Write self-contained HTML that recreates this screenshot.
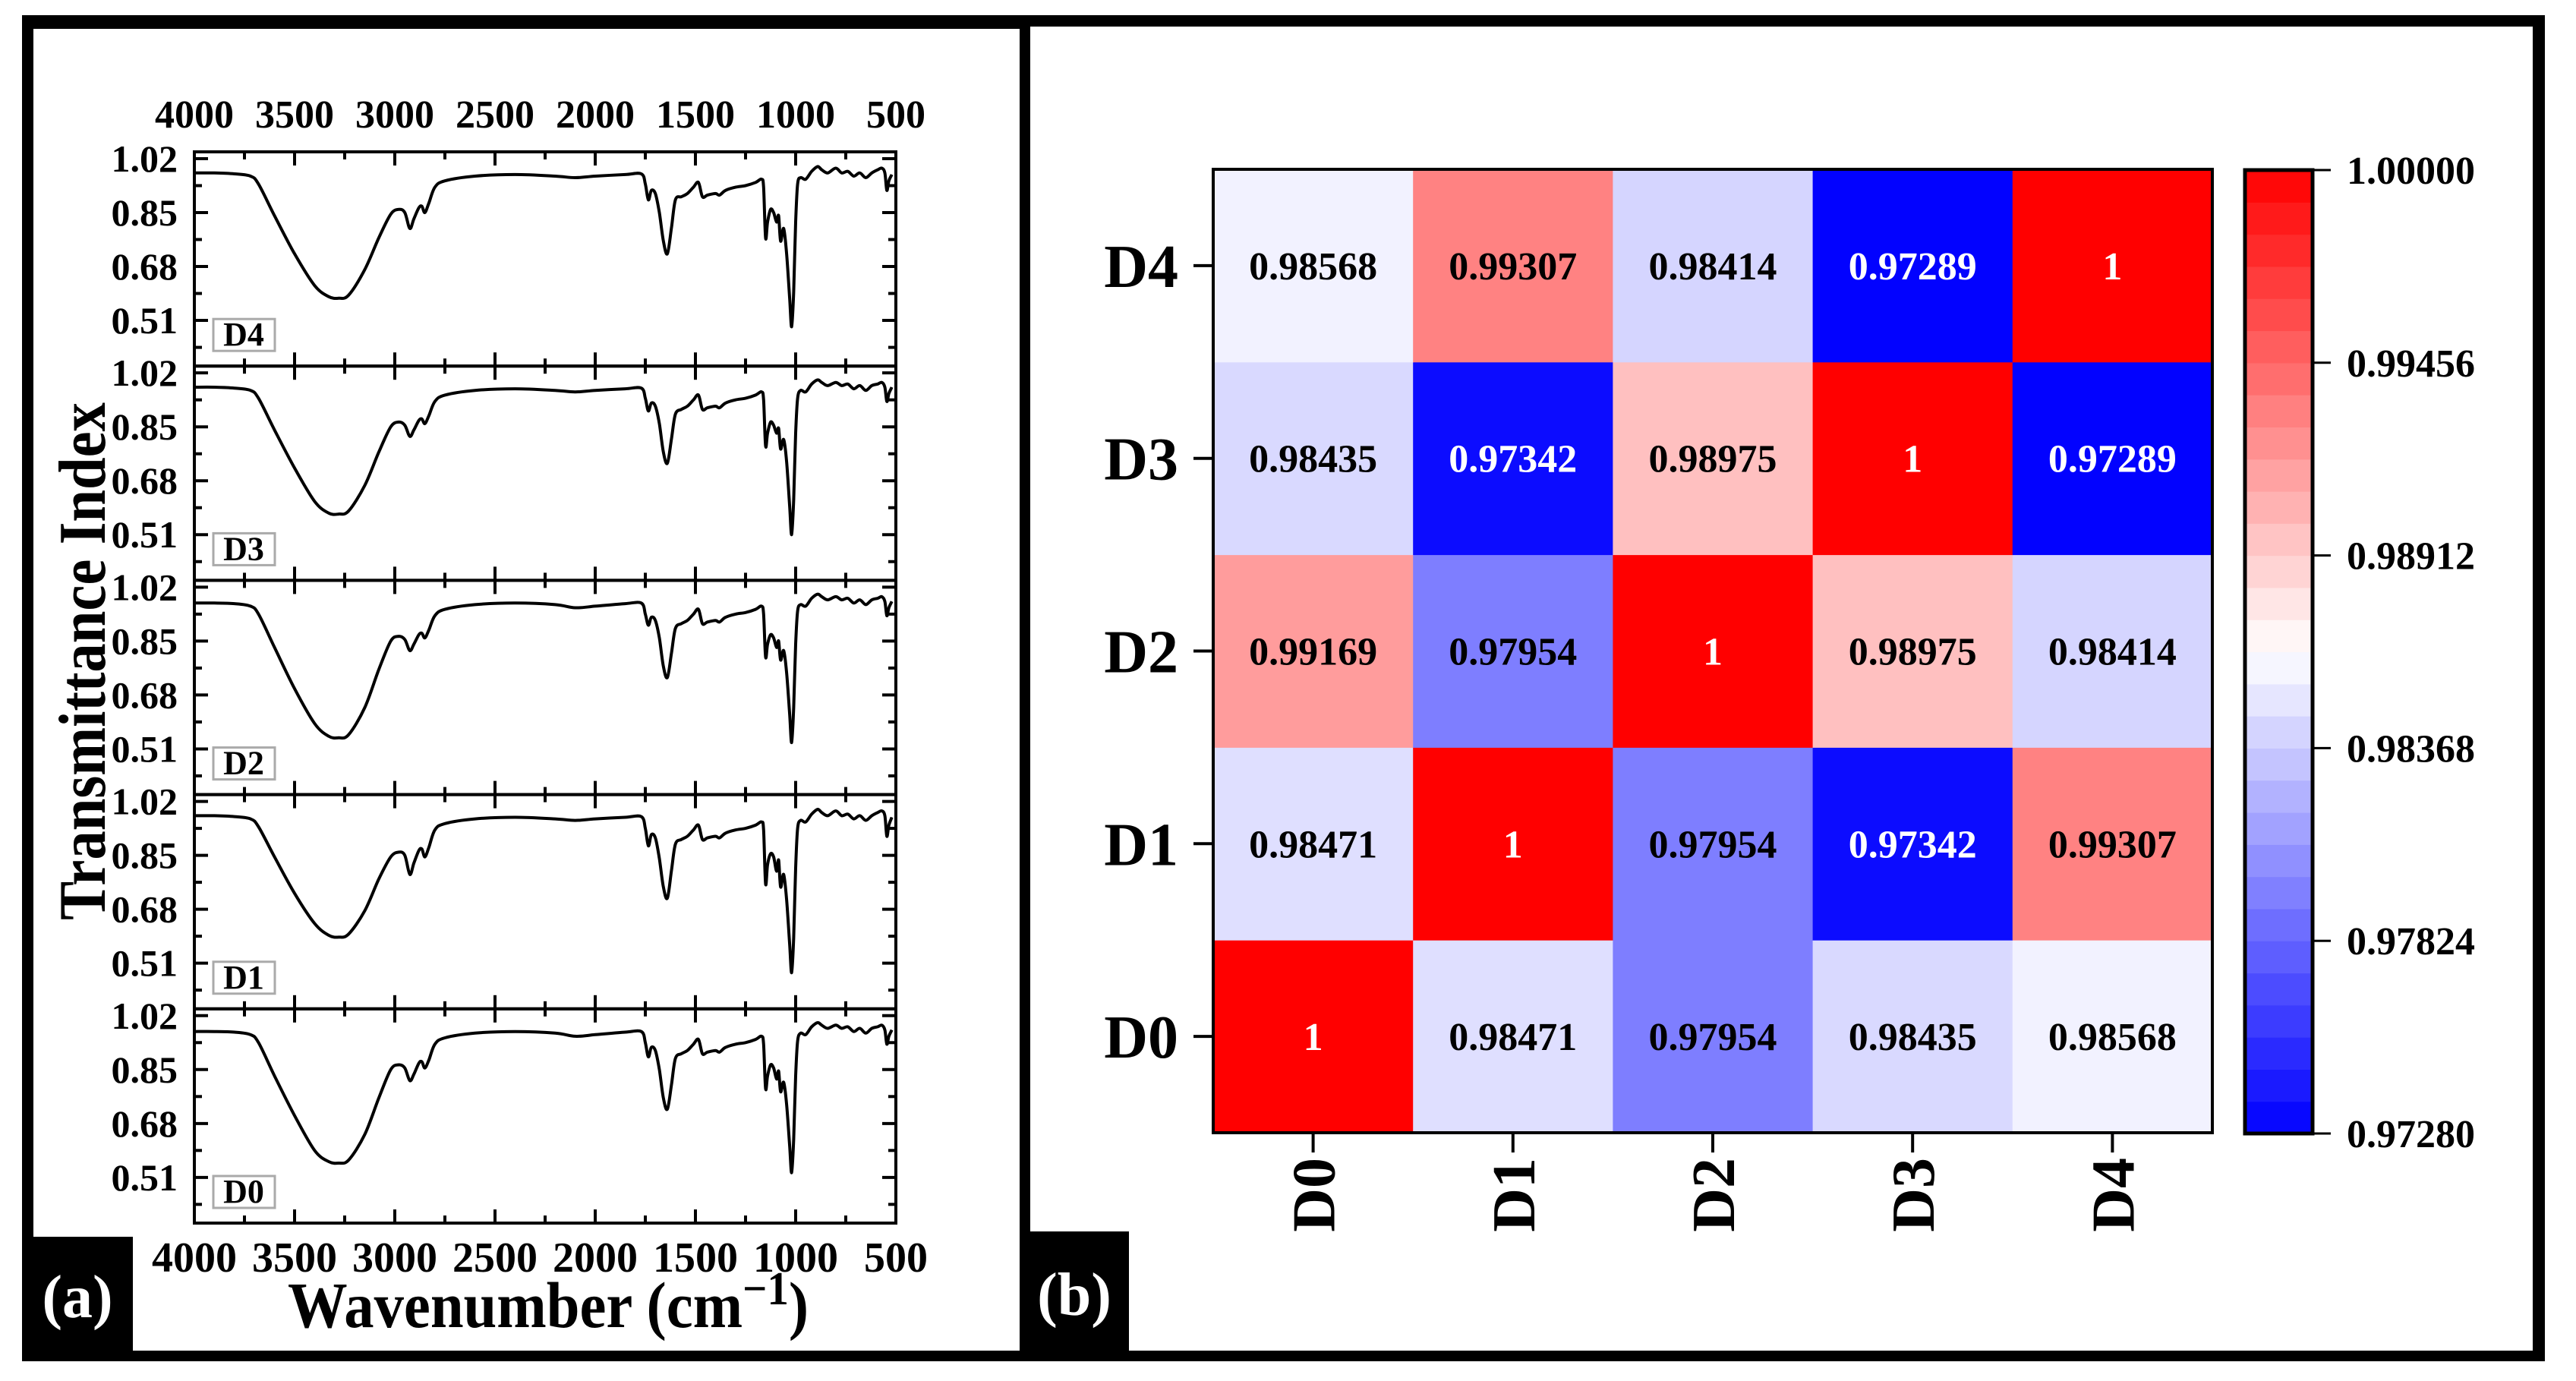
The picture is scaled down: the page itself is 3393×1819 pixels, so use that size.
<!DOCTYPE html>
<html><head><meta charset="utf-8"><style>
html,body{margin:0;padding:0;background:#fff;}
svg{display:block;font-family:"Liberation Serif",serif;font-weight:bold;}
</style></head><body>
<svg id="fig" width="3393" height="1819" viewBox="0 0 3393 1819" xmlns="http://www.w3.org/2000/svg">
<rect x="29" y="20" width="3323" height="1773" fill="#000"/>
<rect x="44" y="38" width="1299" height="1741" fill="#fff"/>
<rect x="1357" y="35" width="1979" height="1744" fill="#fff"/>
<rect x="29" y="1629" width="146" height="164" fill="#000"/>
<text x="102" y="1735" font-size="80" fill="#fff" text-anchor="middle">(a)</text>
<rect x="1343" y="1622" width="144" height="171" fill="#000"/>
<text x="1415" y="1732" font-size="80" fill="#fff" text-anchor="middle">(b)</text>
<g id="ftir"></g>
<g id="heat"></g>
<text x="722" y="1748" font-size="86" text-anchor="middle" textLength="686" lengthAdjust="spacingAndGlyphs">Wavenumber (cm<tspan dy="-30" font-size="62">−1</tspan><tspan dy="30">)</tspan></text>
<text transform="translate(138,871) rotate(-90)" font-size="88" text-anchor="middle" textLength="682" lengthAdjust="spacingAndGlyphs">Transmittance Index</text>
</svg>
<script>
const NS="http://www.w3.org/2000/svg";
// ---------- FTIR data ----------
const samples=["D4","D3","D2","D1","D0"];
const xTicks=[4000,3500,3000,2500,2000,1500,1000,500];
const yTicks=[1.02,0.85,0.68,0.51];
const W=[4000,3900,3800,3720,3680,3600,3500,3400,3330,3280,3230,3150,3080,3020,2980,2950,2925,2905,2880,2865,2850,2830,2800,2750,2600,2400,2200,2100,2000,1850,1770,1750,1735,1720,1700,1680,1660,1640,1620,1600,1570,1540,1510,1485,1465,1440,1400,1380,1350,1300,1250,1200,1170,1160,1150,1140,1125,1110,1095,1085,1075,1060,1045,1030,1020,1010,1000,990,975,950,920,890,870,840,800,770,740,710,680,650,620,590,570,555,545,535,520];
const tD4=[.975,.975,.972,.965,.94,.84,.72,.62,.585,.58,.59,.67,.77,.845,.86,.85,.80,.83,.865,.87,.85,.88,.93,.95,.965,.97,.965,.96,.965,.97,.972,.94,.89,.92,.91,.85,.76,.72,.80,.89,.90,.91,.93,.945,.90,.905,.91,.905,.92,.93,.935,.945,.955,.93,.77,.82,.86,.85,.82,.84,.76,.80,.72,.58,.49,.60,.82,.94,.96,.955,.98,.995,.985,.975,.99,.975,.98,.965,.975,.96,.975,.985,.99,.975,.92,.95,.97];
const tD3=[.975,.975,.972,.965,.94,.84,.72,.615,.578,.575,.585,.665,.77,.85,.865,.855,.82,.84,.87,.875,.86,.885,.93,.95,.965,.97,.965,.96,.965,.97,.972,.94,.90,.925,.915,.86,.77,.735,.81,.89,.905,.915,.935,.95,.905,.91,.915,.91,.925,.935,.94,.95,.96,.935,.79,.83,.865,.855,.83,.845,.78,.81,.74,.60,.51,.62,.83,.94,.965,.96,.985,.998,.99,.98,.99,.98,.985,.97,.98,.965,.98,.985,.99,.975,.93,.955,.975];
const tD2=[.97,.97,.968,.96,.935,.83,.70,.59,.55,.545,.555,.64,.76,.85,.865,.855,.82,.84,.87,.875,.86,.885,.93,.95,.965,.97,.965,.955,.96,.968,.97,.935,.90,.925,.915,.86,.77,.735,.81,.89,.905,.915,.935,.95,.905,.91,.915,.91,.925,.935,.94,.95,.96,.935,.80,.84,.87,.86,.83,.85,.79,.82,.75,.62,.53,.64,.84,.945,.965,.96,.985,.998,.99,.98,.99,.98,.985,.97,.98,.965,.98,.985,.99,.975,.93,.955,.975];
const tD1=[.975,.975,.972,.965,.94,.845,.73,.635,.598,.592,.602,.675,.775,.845,.86,.85,.79,.825,.865,.87,.845,.875,.93,.95,.965,.97,.965,.96,.965,.97,.972,.935,.88,.915,.905,.84,.75,.715,.80,.885,.90,.91,.93,.945,.90,.905,.91,.905,.92,.93,.935,.945,.955,.93,.76,.82,.855,.845,.80,.835,.75,.79,.71,.57,.48,.59,.81,.935,.96,.955,.98,.995,.985,.975,.99,.975,.98,.965,.975,.96,.975,.985,.99,.975,.91,.945,.97];
const tD0=[.97,.97,.968,.96,.935,.83,.705,.595,.56,.555,.565,.645,.76,.85,.865,.855,.815,.835,.87,.875,.855,.88,.93,.95,.965,.97,.965,.955,.96,.968,.97,.935,.89,.92,.91,.85,.76,.725,.80,.885,.90,.91,.93,.945,.90,.905,.91,.905,.92,.93,.935,.945,.955,.93,.79,.83,.865,.855,.82,.845,.78,.81,.74,.61,.525,.63,.83,.94,.965,.96,.985,.998,.99,.98,.99,.98,.985,.97,.98,.965,.98,.985,.99,.975,.93,.955,.975];
const spectra=[tD4,tD3,tD2,tD1,tD0];
// ---------- Heatmap data ----------
const heatRows=["D0","D1","D2","D3","D4"];
const heatCols=["D0","D1","D2","D3","D4"];
const rowD0=[1,0.98471,0.97954,0.98435,0.98568];
const rowD1=[0.98471,1,0.97954,0.97342,0.99307];
const rowD2=[0.99169,0.97954,1,0.98975,0.98414];
const rowD3=[0.98435,0.97342,0.98975,1,0.97289];
const rowD4=[0.98568,0.99307,0.98414,0.97289,1];
const labD0=["1","0.98471","0.97954","0.98435","0.98568"];
const labD1=["0.98471","1","0.97954","0.97342","0.99307"];
const labD2=["0.99169","0.97954","1","0.98975","0.98414"];
const labD3=["0.98435","0.97342","0.98975","1","0.97289"];
const labD4=["0.98568","0.99307","0.98414","0.97289","1"];
const cbTicks=["1.00000","0.99456","0.98912","0.98368","0.97824","0.97280"];
const vMin=0.9728, vMax=1.0;

function mk(tag,attrs,parent){const e=document.createElementNS(NS,tag);for(const k in attrs)e.setAttribute(k,attrs[k]);parent.appendChild(e);return e;}
function smooth(pts){
  let d='M'+pts[0][0].toFixed(1)+','+pts[0][1].toFixed(1);
  for(let i=0;i<pts.length-1;i++){
    const p0=pts[Math.max(0,i-1)],p1=pts[i],p2=pts[i+1],p3=pts[Math.min(pts.length-1,i+2)];
    const k=1/6;
    const c1=[p1[0]+(p2[0]-p0[0])*k,p1[1]+(p2[1]-p0[1])*k];
    const c2=[p2[0]-(p3[0]-p1[0])*k,p2[1]-(p3[1]-p1[1])*k];
    d+='C'+c1[0].toFixed(1)+','+c1[1].toFixed(1)+' '+c2[0].toFixed(1)+','+c2[1].toFixed(1)+' '+p2[0].toFixed(1)+','+p2[1].toFixed(1);
  }
  return d;
}

// ---------- FTIR drawing ----------
const g=document.getElementById('ftir');
const X0=256,X1=1180,PT=200,PB=1611,PH=(PB-PT)/5,YTOP=1.0415,YBOT=0.366;
const xs=w=>X0+(4000-w)*(X1-X0)/3500;
samples.forEach((s,p)=>{
  const top=PT+p*PH, bot=top+PH;
  const ys=v=>top+(YTOP-v)/(YTOP-YBOT)*PH;
  const fr=mk('rect',{x:X0,y:top,width:X1-X0,height:PH,fill:'none',stroke:'#000','stroke-width':4},g);
  
  
  for(let w=4000;w>=500;w-=250){
    const L=(w%500===0)?18:10;const x=xs(w);
    const t1=mk('line',{x1:x,y1:top,x2:x,y2:top+L,stroke:'#000','stroke-width':4},g);
    
    
    const t2=mk('line',{x1:x,y1:bot,x2:x,y2:bot-L,stroke:'#000','stroke-width':4},g);
    
    
  }
  yTicks.forEach((v,i)=>{
    [v,v-0.085].forEach((vv,j)=>{
      const y=ys(vv);if(y>bot-2)return;const L=j?10:18;
      const a=mk('line',{x1:X0,y1:y,x2:X0+L,y2:y,stroke:'#000','stroke-width':4},g);
      
      
      const b=mk('line',{x1:X1,y1:y,x2:X1-L,y2:y,stroke:'#000','stroke-width':4},g);
      
      
    });
    const tl=mk('text',{x:234,y:ys(v)+17,'font-size':50,'text-anchor':'end'},g);
    tl.textContent=v.toFixed(2);
    
    
  });
  const pts=W.map((w,i)=>[xs(w),ys(spectra[p][i])]);
  const path=mk('path',{d:smooth(pts),fill:'none',stroke:'#000','stroke-width':4,'stroke-linejoin':'round'},g);
  
  
  const bx=mk('rect',{x:281,y:bot-62,width:81,height:42,fill:'#fff',stroke:'#aaa','stroke-width':3},g);
  
  
  const lt=mk('text',{x:321,y:bot-27,'font-size':44,'text-anchor':'middle'},g);
  lt.textContent=s;
  
  
});
xTicks.forEach(w=>{
  const a=mk('text',{x:xs(w),y:168,'font-size':52,'text-anchor':'middle'},g);
  a.textContent=w;
  
  
  const b=mk('text',{x:xs(w),y:1675,'font-size':56,'text-anchor':'middle'},g);
  b.textContent=w;
  
  
});

// ---------- Heatmap drawing ----------
const h=document.getElementById('heat');
const HX0=1598,HX1=2914,HY0=223,HY1=1492;
const cw=(HX1-HX0)/heatCols.length, ch=(HY1-HY0)/heatRows.length;
function bwr(v){let t=(v-vMin)/(vMax-vMin);t=Math.max(0,Math.min(1,t));
  if(t<0.5){const f=t*2;const c=Math.round(255*f);return `rgb(${c},${c},255)`;}
  const f=(1-t)*2;const c=Math.round(255*f);return `rgb(255,${c},${c})`;}
const rowsV=[rowD0,rowD1,rowD2,rowD3,rowD4];
const rowsL=[labD0,labD1,labD2,labD3,labD4];
heatRows.forEach((r,i)=>{
  const y=HY1-(i+1)*ch;
  heatCols.forEach((c,j)=>{
    const x=HX0+j*cw;const v=rowsV[i][j];
    const cell=mk('rect',{x:x,y:y,width:cw+0.5,height:ch+0.5,fill:bwr(v)},h);
    
    
    const dark=v>0.9985||v<0.9745;
    const t=mk('text',{x:x+cw/2,y:y+ch/2+18,'font-size':52,'text-anchor':'middle',fill:dark?'#fff':'#000'},h);
    t.textContent=rowsL[i][j];
    
    
  });
  const cy=y+ch/2;
  const tk=mk('line',{x1:HX0-26,y1:cy,x2:HX0,y2:cy,stroke:'#000','stroke-width':4},h);
  
  
  const rl=mk('text',{x:1552,y:cy+28,'font-size':80,'text-anchor':'end'},h);
  rl.textContent=r;
  
  
});
heatCols.forEach((c,j)=>{
  const cx=HX0+(j+0.5)*cw;
  const tk=mk('line',{x1:cx,y1:HY1,x2:cx,y2:HY1+26,stroke:'#000','stroke-width':4},h);
  
  
  const cl=mk('text',{transform:`translate(${cx+28},1525) rotate(-90)`,'font-size':80,'text-anchor':'end'},h);
  cl.textContent=c;
  
  
});
const hf=mk('rect',{x:HX0,y:HY0,width:HX1-HX0,height:HY1-HY0,fill:'none',stroke:'#000','stroke-width':4},h);


// colorbar
const CX0=2957,CX1=3046,CY0=224,CY1=1493,NB=30;
for(let k=0;k<NB;k++){
  const v=vMin+(k+0.5)*(vMax-vMin)/NB;
  const y1=CY1-(k+1)*(CY1-CY0)/NB;
  const b=mk('rect',{x:CX0,y:y1,width:CX1-CX0,height:(CY1-CY0)/NB+0.6,fill:bwr(v)},h);
  
  
}
const cf=mk('rect',{x:CX0,y:CY0,width:CX1-CX0,height:CY1-CY0,fill:'none',stroke:'#000','stroke-width':5},h);


cbTicks.forEach((lab,i)=>{
  const y=CY0+i*(CY1-CY0)/(cbTicks.length-1);
  const tk=mk('line',{x1:CX1,y1:y,x2:CX1+24,y2:y,stroke:'#000','stroke-width':3},h);
  
  
  const t=mk('text',{x:3091,y:y+18,'font-size':52},h);
  t.textContent=lab;
  
  
});
</script>
</body></html>
